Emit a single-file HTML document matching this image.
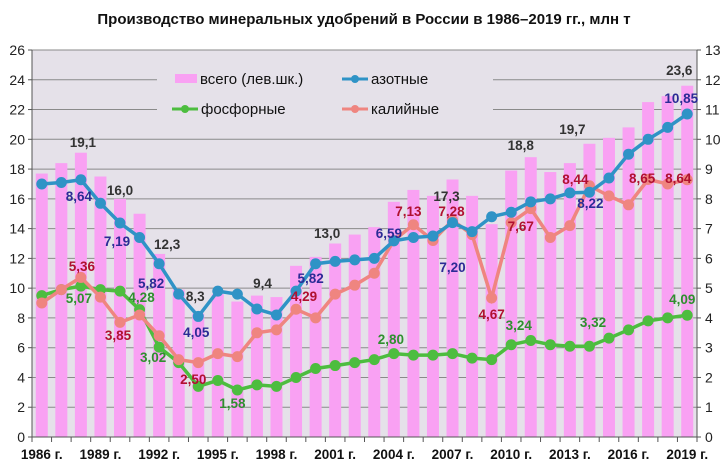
<!DOCTYPE html>
<html><head><meta charset="utf-8"><style>
body{margin:0;background:#fff;}
svg{display:block;font-family:"Liberation Sans",sans-serif;}
</style></head><body>
<svg id="c" width="728" height="476" xmlns="http://www.w3.org/2000/svg"></svg>
<script>
const s=document.getElementById('c');
const X0=32,X1=697,Y0=437,Y1=50,N=34,bw=(X1-X0)/N;
const yl=v=>Y0-(Y0-Y1)*v/26, yr=v=>Y0-(Y0-Y1)*v/13, xc=i=>X0+bw*(i+0.5);
let h='';
h+=`<text x="364" y="24" text-anchor="middle" font-size="15" font-weight="bold" fill="#111">Производство минеральных удобрений в России в 1986–2019 гг., млн т</text>`;
h+=`<rect x="${X0}" y="${Y1}" width="${X1-X0}" height="${Y0-Y1}" fill="#e5e1e9"/>`;
for(let v=0;v<=26;v+=2){const y=yl(v);
 if(v>0)h+=`<line x1="${X0}" x2="${X1}" y1="${y}" y2="${y}" stroke="#8a8a8a" stroke-width="1"/>`;
 h+=`<line x1="${X0-4}" x2="${X0}" y1="${y}" y2="${y}" stroke="#555"/>`;
 h+=`<text x="${X0-7}" y="${y+5}" text-anchor="end" font-size="14" fill="#222">${v}</text>`;}
for(let v=0;v<=13;v++){const y=yr(v);
 h+=`<line x1="${X1}" x2="${X1+4}" y1="${y}" y2="${y}" stroke="#555"/>`;
 h+=`<text x="${X1+8}" y="${y+5}" font-size="14" fill="#222">${v}</text>`;}
const tot=[17.7,18.4,19.1,17.5,16.0,15.0,12.3,9.9,8.3,9.6,9.1,9.5,9.4,11.5,12.1,13.0,13.6,14.1,15.8,16.6,16.2,17.3,16.2,14.3,17.9,18.8,17.8,18.4,19.7,20.1,20.8,22.5,22.9,23.6];
const az=[8.5,8.55,8.64,7.85,7.19,6.7,5.82,4.8,4.05,4.9,4.8,4.3,4.1,4.9,5.82,5.9,5.95,6.0,6.59,6.7,6.75,7.2,6.9,7.4,7.55,7.9,8.0,8.2,8.22,8.7,9.5,10.0,10.4,10.85];
const ka=[4.5,4.95,5.36,4.7,3.85,4.1,3.4,2.6,2.5,2.8,2.7,3.5,3.6,4.29,4.0,4.8,5.1,5.5,6.6,7.13,6.6,7.28,6.8,4.67,7.2,7.67,6.7,7.1,8.44,8.1,7.8,8.65,8.5,8.64];
const fo=[4.75,4.95,5.07,4.95,4.9,4.28,3.02,2.5,1.7,1.9,1.58,1.75,1.7,2.0,2.3,2.4,2.5,2.6,2.8,2.75,2.75,2.8,2.65,2.6,3.1,3.24,3.1,3.05,3.05,3.32,3.6,3.9,4.0,4.09];
tot.forEach((v,i)=>{h+=`<rect x="${xc(i)-6}" y="${yl(v)}" width="12" height="${Y0-yl(v)}" fill="#f9a1f3"/>`;});
h+=`<rect x="157" y="60" width="336" height="64" fill="#e5e1e9"/>`;
h+=`<rect x="175" y="74" width="22" height="9" fill="#f9a1f3"/><text x="200" y="84" font-size="15" fill="#111">всего (лев.шк.)</text>`;
const leg=(x,y,c,t)=>`<line x1="${x}" x2="${x+26}" y1="${y}" y2="${y}" stroke="${c}" stroke-width="3"/><circle cx="${x+13}" cy="${y}" r="4" fill="${c}"/><text x="${x+29}" y="${y+5}" font-size="15" fill="#111">${t}</text>`;
h+=leg(342,79,'#2f93c6','азотные');
h+=leg(172,109,'#4dbd3f','фосфорные');
h+=leg(342,109,'#ef8580','калийные');
const line=(d,c)=>{let p=d.map((v,i)=>`${xc(i).toFixed(1)},${yr(v).toFixed(1)}`).join(' ');
 let r=`<polyline points="${p}" fill="none" stroke="${c}" stroke-width="3.5"/>`;
 d.forEach((v,i)=>r+=`<circle cx="${xc(i)}" cy="${yr(v)}" r="5.5" fill="${c}"/>`);return r;};
h+=line(fo,'#4dbd3f');h+=line(ka,'#ef8580');h+=line(az,'#2f93c6');
h+=`<line x1="${X0}" x2="${X1}" y1="${Y0}" y2="${Y0}" stroke="#555"/>`;
h+=`<line x1="${X0}" x2="${X0}" y1="${Y1}" y2="${Y0}" stroke="#555"/><line x1="${X1}" x2="${X1}" y1="${Y1}" y2="${Y0}" stroke="#555"/>`;
for(let i=0;i<=N;i++)h+=`<line x1="${X0+bw*i}" x2="${X0+bw*i}" y1="${Y0}" y2="${Y0+5}" stroke="#555"/>`;
for(let i=0;i<N;i+=3)h+=`<text x="${xc(i)}" y="${Y0+22}" text-anchor="middle" font-size="13.5" font-weight="bold" fill="#111">${1986+i} г.</text>`;
const L=(i,dy,t,c,dx=0)=>{h+=`<text x="${xc(i)+dx}" y="${dy}" text-anchor="middle" font-size="13.5" font-weight="bold" fill="${c}">${t}</text>`;};
const T='#333',B='#2b2b95',R='#b01030',G='#2f8f2f';
L(2,147,'19,1',T,2);L(4,195,'16,0',T);L(6,249,'12,3',T,8);L(8,301,'8,3',T,-3);L(12,288,'9,4',T,-14);L(15,238,'13,0',T,-8);L(21,201,'17,3',T,-6);L(25,150,'18,8',T,-10);L(28,134,'19,7',T,-17);L(33,75,'23,6',T,-8);
L(2,201,'8,64',B,-2);L(4,246,'7,19',B,-3);L(6,288,'5,82',B,-8);L(8,337,'4,05',B,-2);L(14,283,'5,82',B,-5);L(18,238,'6,59',B,-5);L(21,272,'7,20',B,0);L(28,208,'8,22',B,1);L(33,103,'10,85',B,-6);
L(2,271,'5,36',R,1);L(4,340,'3,85',R,-2);L(8,384,'2,50',R,-5);L(13,301,'4,29',R,8);L(19,216,'7,13',R,-5);L(21,216,'7,28',R,-1);L(23,319,'4,67',R,0);L(25,231,'7,67',R,-10);L(28,184,'8,44',R,-14);L(31,183,'8,65',R,-6);L(33,183,'8,64',R,-9);
L(2,303,'5,07',G,-2);L(5,302,'4,28',G,2);L(6,362,'3,02',G,-6);L(10,408,'1,58',G,-5);L(18,344,'2,80',G,-3);L(25,330,'3,24',G,-12);L(29,327,'3,32',G,-16);L(33,304,'4,09',G,-5);
s.innerHTML=h;
</script>
</body></html>
